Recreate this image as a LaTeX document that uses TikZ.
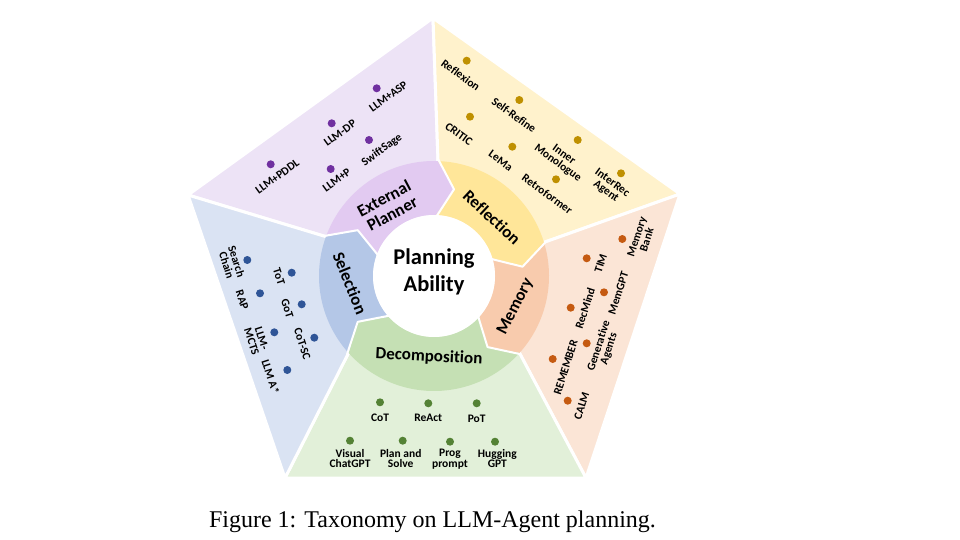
\documentclass[tikz,border=0pt]{standalone}
\usepackage{fontspec}
\newfontfamily\calibri[Ligatures=NoCommon]{Carlito}
\newfontfamily\timesf{Liberation Serif}
\definecolor{pw}{HTML}{EDE3F6}
\definecolor{pr}{HTML}{E2CAF1}
\definecolor{pd}{HTML}{7030A0}
\definecolor{yw}{HTML}{FFF2CC}
\definecolor{yr}{HTML}{FFE699}
\definecolor{yd}{HTML}{BF9000}
\definecolor{mw}{HTML}{FBE5D6}
\definecolor{mr}{HTML}{F8CBAD}
\definecolor{md}{HTML}{C55A11}
\definecolor{gw}{HTML}{E2F0D9}
\definecolor{gr}{HTML}{C5E0B4}
\definecolor{gd}{HTML}{548235}
\definecolor{bw}{HTML}{DAE3F3}
\definecolor{br}{HTML}{B4C7E7}
\definecolor{bd}{HTML}{2F5597}
\newcommand\ringseg[3]{%
  \fill[#1] ({434+115*cos(#2)},{276-115*sin(#2)})
    -- plot[domain=#2:#3,samples=40] ({434+115*cos(\x)},{276-115*sin(\x)})
    -- ({434+89*cos(#3-11)},{276-89*sin(#3-11)})
    -- ({434+61*cos(#3)},{276-61*sin(#3)})
    -- plot[domain=#3:#2,samples=40] ({434+61*cos(\x)},{276-61*sin(\x)})
    -- ({434+89*cos(#2-11)},{276-89*sin(#2-11)}) -- cycle;}
\newcommand\chevline[1]{%
  \draw[white, line width=2pt, line join=round] ({434+117*cos(#1)},{276-117*sin(#1)})
    -- ({434+89*cos(#1-11)},{276-89*sin(#1-11)})
    -- ({434+59*cos(#1)},{276-59*sin(#1)});}
\begin{document}
\begin{tikzpicture}[x=1pt,y=-1pt,
  itm/.style={font=\calibri\bfseries\fontsize{11.5}{10.5}\selectfont, align=center, inner sep=0pt, text=black},
  ringlbl/.style={font=\calibri\bfseries\fontsize{17}{17.5}\selectfont, align=center, inner sep=0pt, text=black},
  dotbase/.style={circle, minimum size=8pt, inner sep=0pt},
  pdot/.style={dotbase, fill=pd},
  ydot/.style={dotbase, fill=yd},
  mdot/.style={dotbase, fill=md},
  gdot/.style={dotbase, fill=gd},
  bdot/.style={dotbase, fill=bd},
  wedge/.style={draw=white, line width=3pt, line join=round}]
\useasboundingbox (0,0) rectangle (960,540);
\fill[white] (0,0) rectangle (960,540);
% pentagon vertices and centre
\coordinate (vT) at (433,18);
\coordinate (vL) at (188,195);
\coordinate (vR) at (680,194);
\coordinate (vBR) at (586,478);
\coordinate (vBL) at (285,478);
\coordinate (O) at (434,276);
\coordinate (b1) at ({434+115*cos(160)},{276-115*sin(160)});
\coordinate (b2) at ({434+115*cos(88)},{276-115*sin(88)});
\coordinate (b3) at ({434+115*cos(17)},{276-115*sin(17)});
\coordinate (b4) at ({434+115*cos(-42)},{276-115*sin(-42)});
\coordinate (b5) at ({434+115*cos(-138)},{276-115*sin(-138)});
% outer wedges
\fill[pw, wedge] (vL) -- (vT) -- (b2) -- (O) -- (b1) -- cycle;
\fill[yw, wedge] (vT) -- (vR) -- (b3) -- (O) -- (b2) -- cycle;
\fill[mw, wedge] (vR) -- (vBR) -- (b4) -- (O) -- (b3) -- cycle;
\fill[gw, wedge] (vBR) -- (vBL) -- (b5) -- (O) -- (b4) -- cycle;
\fill[bw, wedge] (vBL) -- (vL) -- (b1) -- (O) -- (b5) -- cycle;
% ring
\ringseg{pr}{160}{88}
\ringseg{yr}{88}{17}
\ringseg{mr}{17}{-42}
\ringseg{gr}{-42}{-138}
\ringseg{br}{222}{160}
\chevline{160}
\chevline{88}
\chevline{17}
\chevline{-42}
\chevline{-138}
\fill[white] (O) circle[radius=61pt];
\node[font=\calibri\bfseries\fontsize{22.5}{27}\selectfont, align=center, inner sep=0pt] (core) at (434,272) {Planning\\Ability};
% ring labels
\node[ringlbl, rotate=28] (ep) at (388,206) {External\\Planner};
\node[ringlbl, rotate=-43] (refl) at (492,217.5) {Reflection};
\node[ringlbl, rotate=63] (mem) at (515.5,306.7) {Memory};
\node[ringlbl, rotate=-3] (dec) at (429,356.7) {Decomposition};
\node[ringlbl, rotate=-68] (sel) at (350,283.3) {Selection};
% External planner items
\node[pdot] (d-asp) at (376.7,88.3) {};
\node[itm, rotate=36] (t-asp) at (388.3,96.5) {LLM+ASP};
\node[pdot] (d-dp) at (331.7,123.3) {};
\node[itm, rotate=36] (t-dp) at (340,133) {LLM-DP};
\node[pdot] (d-ss) at (369,140) {};
\node[itm, rotate=36] (t-ss) at (382,150) {SwiftSage};
\node[pdot] (d-pddl) at (270.7,164.3) {};
\node[itm, rotate=36] (t-pddl) at (277.3,176.7) {LLM+PDDL};
\node[pdot] (d-p) at (330.7,169) {};
\node[itm, rotate=36] (t-p) at (336.7,180) {LLM+P};
% Reflection items
\node[ydot] (d-rx) at (466.7,60.7) {};
\node[itm, rotate=-36] (t-rx) at (460.7,75) {Reflexion};
\node[ydot] (d-sr) at (519.3,100) {};
\node[itm, rotate=-36] (t-sr) at (514,115) {Self-Refine};
\node[ydot] (d-cr) at (470,116.7) {};
\node[itm, rotate=-36] (t-cr) at (459,134) {CRITIC};
\node[ydot] (d-lm) at (512.3,146.7) {};
\node[itm, rotate=-36] (t-lm) at (500.7,160.7) {LeMa};
\node[ydot] (d-im) at (577.7,140) {};
\node[itm, rotate=-36] (t-im) at (560.7,159.3) {Inner\\Monologue};
\node[ydot] (d-rf) at (556,179.3) {};
\node[itm, rotate=-36] (t-rf) at (547.3,194) {Retroformer};
\node[ydot] (d-ir) at (621,173.3) {};
\node[itm, rotate=-36] (t-ir) at (609,187.3) {InterRec\\Agent};
% Selection items
\node[bdot] (d-sc) at (247.3,260) {};
\node[itm, rotate=-72] (t-sc) at (231.7,263.3) {Search\\Chain};
\node[bdot] (d-tot) at (291.7,272.7) {};
\node[itm, rotate=-72] (t-tot) at (279,276.7) {ToT};
\node[bdot] (d-rap) at (260,293.3) {};
\node[itm, rotate=-72] (t-rap) at (242.3,300) {RAP};
\node[bdot] (d-got) at (301.7,304.3) {};
\node[itm, rotate=-72] (t-got) at (287.3,308.3) {GoT};
\node[bdot] (d-mcts) at (274.3,332.3) {};
\node[itm, rotate=-72] (t-mcts) at (256.7,340) {LLM-\\MCTS};
\node[bdot] (d-cotsc) at (314.3,337.7) {};
\node[itm, rotate=-72] (t-cotsc) at (302.3,344) {CoT-SC};
\node[bdot] (d-astar) at (287.3,370) {};
\node[itm, rotate=-72] (t-astar) at (270.7,376.7) {LLM A*};
% Memory items
\node[mdot] (d-mb) at (622.3,239) {};
\node[itm, rotate=72] (t-mb) at (641.7,238.3) {Memory\\Bank};
\node[mdot] (d-tim) at (586.7,258.3) {};
\node[itm, rotate=72] (t-tim) at (600.7,263.3) {TIM};
\node[mdot] (d-mg) at (604,292.3) {};
\node[itm, rotate=72] (t-mg) at (618.3,293.3) {MemGPT};
\node[mdot] (d-rm) at (570.7,307.7) {};
\node[itm, rotate=72] (t-rm) at (585,308.3) {RecMind};
\node[mdot] (d-ga) at (586.7,343.3) {};
\node[itm, rotate=72] (t-ga) at (604,347.3) {Generative\\Agents};
\node[mdot] (d-rem) at (552.7,359) {};
\node[itm, rotate=72] (t-rem) at (565.7,367.3) {REMEMBER};
\node[mdot] (d-calm) at (567.7,400.7) {};
\node[itm, rotate=72] (t-calm) at (581.7,405.7) {CALM};
% Decomposition items
\node[gdot] (d-cot) at (380,402.3) {};
\node[itm] (t-cot) at (380,417.3) {CoT};
\node[gdot] (d-react) at (428.3,403.3) {};
\node[itm] (t-react) at (428.3,417.7) {ReAct};
\node[gdot] (d-pot) at (476.7,403.3) {};
\node[itm] (t-pot) at (476.7,419.3) {PoT};
\node[gdot] (d-vc) at (350,440.7) {};
\node[itm] (t-vc) at (350,458.3) {Visual\\ChatGPT};
\node[gdot] (d-ps) at (402.7,440.7) {};
\node[itm] (t-ps) at (400.7,458.3) {Plan and\\Solve};
\node[gdot] (d-pp) at (450,441.7) {};
\node[itm] (t-pp) at (450,459) {Prog\\prompt};
\node[gdot] (d-hg) at (495,441.7) {};
\node[itm] (t-hg) at (497.3,458.3) {Hugging\\GPT};
% caption
\node[font=\timesf\fontsize{24}{28}\selectfont, anchor=base, inner sep=0pt] (cap) at (432.5,527) {Figure 1: Taxonomy on LLM-Agent planning.};
\end{tikzpicture}
\end{document}
